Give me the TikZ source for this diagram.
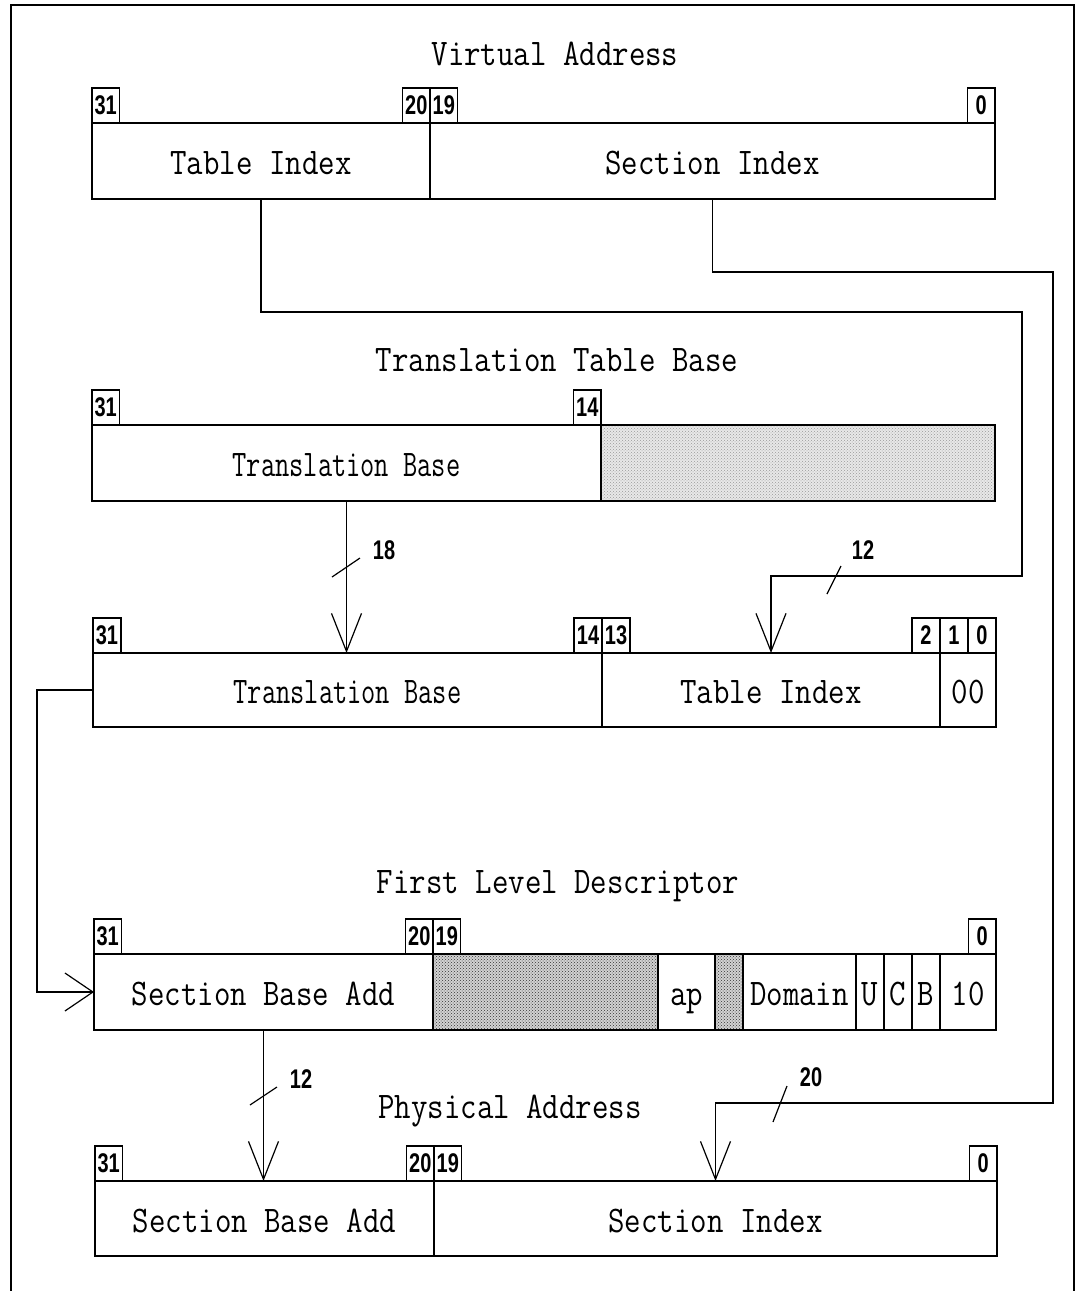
\documentclass[tikz,border=0pt]{standalone}
\usepackage{fontspec}
\usepackage{graphicx}
\usetikzlibrary{arrows.meta,patterns}
\newfontfamily\numf{Liberation Sans}
\newcommand\bign[1]{\scalebox{0.85}[1]{#1}}
\newcommand\midn[1]{\scalebox{0.735}[1]{#1}}
\newcommand\bnum[1]{\scalebox{0.74}[1]{#1}}
\newcommand\bit[5]{\node[bitbox, minimum width=#4pt] (#1) at (#2,#3) {\bnum{#5}};}
\begin{document}
\begin{tikzpicture}[x=1pt,y=-1pt, line width=1.2pt,
 field/.style={draw, inner sep=0pt, outer sep=0pt, anchor=north west},
 bitbox/.style={draw, inner sep=0pt, outer sep=0pt, anchor=south west, minimum height=35pt, font=\fontsize{27}{27}\selectfont\numf\bfseries},
 big/.style={font=\fontsize{37.6}{40}\selectfont\ttfamily, text height=27pt, text depth=0pt},
 title/.style={font=\fontsize{37.6}{40}\selectfont\ttfamily, text height=27pt, text depth=0pt, inner sep=0pt},
 numlbl/.style={font=\fontsize{27}{27}\selectfont\numf\bfseries, inner sep=0pt},
 hatchA/.style={preaction={fill=gray!18}, pattern=crosshatch dots, pattern color=gray!80},
 hatchB/.style={preaction={fill=gray!35}, pattern=crosshatch dots, pattern color=black!80},
 varr/.style={-{Straight Barb[length=38pt,width=30pt]}},
 harr/.style={-{Straight Barb[length=28pt,width=38pt]}},
]
\useasboundingbox (0,0) rectangle (1079,1291);
% frame
\draw[line width=1.5pt] (11,1291) -- (11,5) -- (1074,5) -- (1074,1291);

% ---------------- Virtual Address
\node[title] (tVA) at (555,51.5) {\bign{Virtual Address}};
\node[field, big, minimum width=338pt, minimum height=76pt] (vaTI) at (92,123) {\bign{Table Index}};
\node[field, big, minimum width=565pt, minimum height=76pt] (vaSI) at (430,123) {\bign{Section Index}};
\bit{va31}{92}{123}{27.5}{31}
\bit{va20}{402.5}{123}{27.5}{20}
\bit{va19}{430}{123}{27.5}{19}
\bit{va0}{967.5}{123}{27.5}{0}

% ---------------- Translation Table Base
\node[title] (tTTB) at (557,357.5) {\bign{Translation Table Base}};
\node[field, big, minimum width=509pt, minimum height=76pt] (ttbTB) at (92,425) {\midn{Translation Base}};
\node[field, hatchA, minimum width=394pt, minimum height=76pt] (ttbH) at (601,425) {};
\bit{tb31}{92}{425}{27.5}{31}
\bit{tb14}{573.5}{425}{27.5}{14}

% ---------------- Pointer to descriptor
\node[field, big, minimum width=509pt, minimum height=74pt] (ptTB) at (93,653) {\midn{Translation Base}};
\node[field, big, minimum width=338pt, minimum height=74pt] (ptTI) at (602,653) {\bign{Table Index}};
\node[field, big, minimum width=56pt, minimum height=74pt] (pt00) at (940,653) {\bign{00}};
\bit{pt31}{93}{653}{28}{31}
\bit{pt14}{574}{653}{28}{14}
\bit{pt13}{602}{653}{28}{13}
\bit{pt2}{912}{653}{28}{2}
\bit{pt1}{940}{653}{28}{1}
\bit{pt0}{968}{653}{28}{0}

% ---------------- First Level Descriptor
\node[title] (tFLD) at (558,879.5) {\bign{First Level Descriptor}};
\node[field, big, minimum width=339pt, minimum height=76pt] (fdSB) at (94,954) {\bign{Section Base Add}};
\node[field, hatchB, minimum width=225pt, minimum height=76pt] (fdH1) at (433,954) {};
\node[field, big, minimum width=57pt, minimum height=76pt] (fdAP) at (658,954) {\bign{ap}};
\node[field, hatchB, minimum width=28pt, minimum height=76pt] (fdH2) at (715,954) {};
\node[field, big, minimum width=113pt, minimum height=76pt] (fdDom) at (743,954) {\bign{Domain}};
\node[field, big, minimum width=28pt, minimum height=76pt] (fdU) at (856,954) {\bign{U}};
\node[field, big, minimum width=28pt, minimum height=76pt] (fdC) at (884,954) {\bign{C}};
\node[field, big, minimum width=28pt, minimum height=76pt] (fdB) at (912,954) {\bign{B}};
\node[field, big, minimum width=56pt, minimum height=76pt] (fd10) at (940,954) {\bign{10}};
\bit{fd31}{94}{954}{27.5}{31}
\bit{fd20}{405.5}{954}{27.5}{20}
\bit{fd19}{433}{954}{27.5}{19}
\bit{fd0}{968.5}{954}{27.5}{0}

% ---------------- Physical Address
\node[title] (tPA) at (510,1104.5) {\bign{Physical Address}};
\node[field, big, minimum width=339pt, minimum height=75pt] (paSB) at (95,1181) {\bign{Section Base Add}};
\node[field, big, minimum width=563pt, minimum height=75pt] (paSI) at (434,1181) {\bign{Section Index}};
\bit{pa31}{95}{1181}{27.5}{31}
\bit{pa20}{406.5}{1181}{27.5}{20}
\bit{pa19}{434}{1181}{27.5}{19}
\bit{pa0}{969.5}{1181}{27.5}{0}

% ---------------- connectors
\coordinate (r1) at (1022,312);
\coordinate (r2) at (1022,576);
\draw[varr] (vaTI.south) |- (r1) -- (r2) -| (ptTI.north);

\coordinate (s1) at (1053,272);
\coordinate (s2) at (1053,1103);
\draw[varr] (vaSI.south) |- (s1) -- (s2) -| (paSI.north);

\draw[varr] (ttbTB.south) -- (ttbTB.south |- ptTB.north);

\coordinate (l1) at (37,690);
\draw[harr] (ptTB.west) -- (l1) |- (fdSB.west);

\draw[varr] (fdSB.south) -- (fdSB.south |- paSB.north);

% ---------------- width labels
\draw (332,577) -- (360,558);
\node[numlbl] (n18) at (384,550) {\bnum{18}};
\draw (827,594) -- (841,566);
\node[numlbl] (n12a) at (863,550) {\bnum{12}};
\draw (250,1105) -- (277,1087);
\node[numlbl] (n12b) at (301,1079) {\bnum{12}};
\draw (773,1122) -- (787,1086);
\node[numlbl] (n20) at (811,1077) {\bnum{20}};
\end{tikzpicture}
\end{document}
